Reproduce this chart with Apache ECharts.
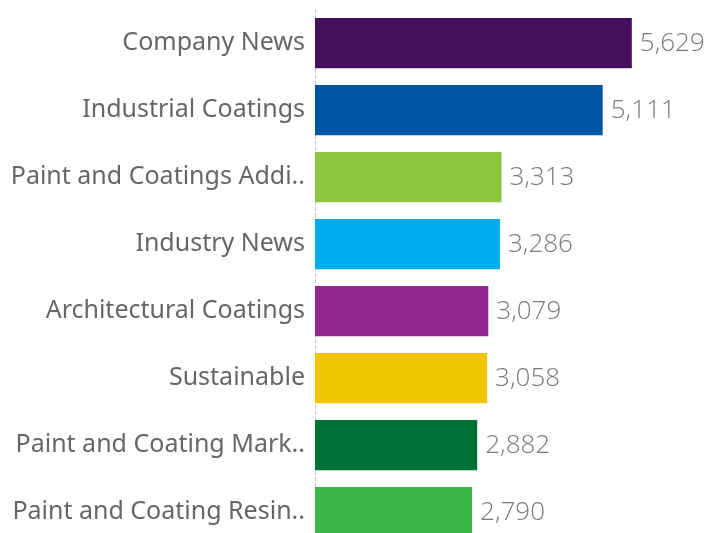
<!DOCTYPE html>
<html>
<head>
<meta charset="utf-8">
<script src="https://cdn.jsdelivr.net/npm/echarts@6/dist/echarts.min.js"></script>
<style>
  html, body { margin: 0; padding: 0; background: #fff; }
  #chart { width: 723px; height: 533px; }
</style>
</head>
<body>
<div id="chart"></div>
<script>
const categories = [
  'Company News',
  'Industrial Coatings',
  'Paint and Coatings Addi..',
  'Industry News',
  'Architectural Coatings',
  'Sustainable',
  'Paint and Coating Mark..',
  'Paint and Coating Resin..'
]
const values = [5629, 5111, 3313, 3286, 3079, 3058, 2882, 2790]
const colors = ['#460f5e', '#0055a5', '#8dc63f', '#00aeef', '#92278f', '#f0c400', '#007236', '#39b54a']

let chart = echarts.init(document.getElementById('chart'))
chart.setOption({
  animation: false,
  grid: {
    left: 315,
    width: 394,
    top: 9.5,
    height: 536,
    outerBoundsMode: 'none',
    containLabel: false
  },
  xAxis: {
    type: 'value',
    min: 0,
    max: 7000,
    show: false
  },
  yAxis: {
    type: 'category',
    inverse: true,
    data: categories,
    axisTick: { show: false },
    axisLine: {
      show: true,
      lineStyle: { color: '#c8c8c8', type: [3, 3], width: 1 }
    },
    axisLabel: {
      margin: 10,
      color: '#666666',
      fontSize: 25,
      fontFamily: 'Noto Sans'
    }
  },
  series: [
    {
      type: 'bar',
      barCategoryGap: '25%',
      data: values.map((v, i) => ({ value: v, itemStyle: { color: colors[i] } })),
      label: {
        show: true,
        position: 'right',
        distance: 8,
        color: '#7a7a7a',
        fontSize: 26,
        fontWeight: 300,
        fontFamily: 'Open Sans',
        offset: [0, 1],
        formatter: p => p.value.toLocaleString('en-US')
      }
    }
  ]
})
</script>
</body>
</html>
